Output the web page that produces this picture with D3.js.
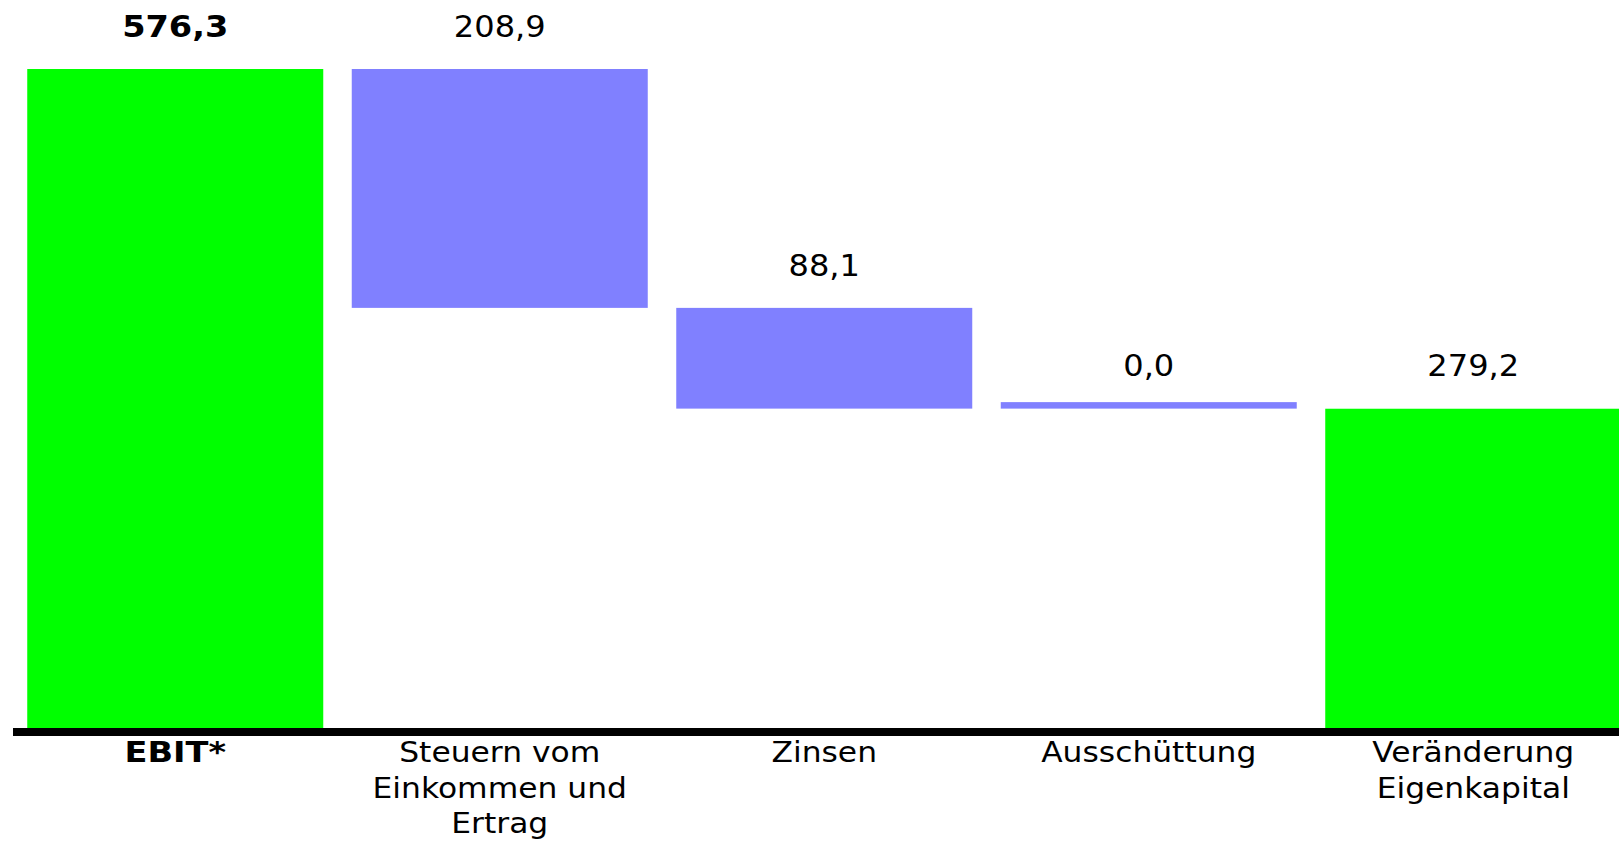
<!DOCTYPE html>
<html>
<head>
<meta charset="utf-8">
<script src="https://cdnjs.cloudflare.com/ajax/libs/d3/7.8.5/d3.min.js"></script>
<style>
	body { margin: 0; background: #ffffff; overflow: hidden; }
	svg { display: block; }
	text { font-family: "DejaVu Sans", Verdana, sans-serif; fill: #000000; }
</style>
</head>
<body>
<div id="chart"></div>
<script>
// chart data
var categories = ["EBIT*", "Steuern vom Einkommen und Ertrag", "Zinsen", "Ausschüttung", "Veränderung Eigenkapital"];
var labelLines = [["EBIT*"], ["Steuern vom", "Einkommen und", "Ertrag"], ["Zinsen"], ["Ausschüttung"], ["Veränderung", "Eigenkapital"]];
var values = [576.3, -208.9, -88.1, 0.0, 279.2];
var barTypes = ["total", "step", "step", "step", "total"];
var boldCategories = ["EBIT*"];

var width = 1619, height = 841;
var colors = { total: "#00ff00", step: "#8080ff" };

var svg = d3.select("#chart").append("svg")
	.attr("width", width)
	.attr("height", height);

// waterfall: start / end for each bar
var bars = [];
var level = 0;
for (var i = 0; i < categories.length; ++i) {
	var start, end;
	if (barTypes[i] == "total") {
		start = 0;
		end = values[i];
		level = values[i];
	}
	else {
		start = level;
		end = level + values[i];
		level = end;
	}
	bars.push({ name: categories[i], lines: labelLines[i], value: values[i], type: barTypes[i], start: start, end: end });
}

var x = d3.scaleBand()
	.domain(categories)
	.range([13, 1635.5])
	.paddingInner(0.0878)
	.paddingOuter(0.0439);

var y = d3.scaleLinear()
	.domain([0, d3.max(values)])
	.range([728, 69]);

var minBar = 6.5;
var de = d3.formatLocale({ decimal: ",", thousands: ".", grouping: [3], currency: ["", " €"] });
var fmt = de.format(".1f");

function isBold(name){
	return boldCategories.indexOf(name) >= 0;
}

svg.selectAll(".bar")
	.data(bars).enter()
	.append("rect")
		.attr("class", "bar")
		.attr("x", function(d){ return x(d.name); })
		.attr("width", x.bandwidth())
		.attr("y", function(d){
			var top = y(Math.max(d.start, d.end));
			var h = Math.abs(y(d.start) - y(d.end));
			return h < minBar ? top - minBar : top;
		})
		.attr("height", function(d){
			return Math.max(minBar, Math.abs(y(d.start) - y(d.end)));
		})
		.attr("fill", function(d){ return colors[d.type]; });

// value labels
svg.selectAll(".value-label")
	.data(bars).enter()
	.append("text")
		.attr("class", "value-label")
		.attr("text-anchor", "middle")
		.attr("transform", function(d){
			var top = y(Math.max(d.start, d.end));
			var sx = isBold(d.name) ? 1.12 : 1.07;
			return "translate(" + (x(d.name) + x.bandwidth() / 2) + "," + (top - 32.3) + ") scale(" + sx + ",1)";
		})
		.style("font-size", "30px")
		.style("font-weight", function(d){ return isBold(d.name) ? "bold" : "normal"; })
		.text(function(d){ return fmt(Math.abs(d.value)); });

// baseline
svg.append("line")
	.attr("x1", 13)
	.attr("x2", width)
	.attr("y1", y(0) + 4)
	.attr("y2", y(0) + 4)
	.attr("stroke", "#000000")
	.attr("stroke-width", 8);

// category labels
var cat = svg.selectAll(".cat-label")
	.data(bars).enter()
	.append("g")
		.attr("class", "cat-label")
		.attr("transform", function(d){
			return "translate(" + (x(d.name) + x.bandwidth() / 2) + ",762)";
		});
cat.selectAll("text")
	.data(function(d){
		return d.lines.map(function(l){ return { text: l, bold: isBold(d.name) }; });
	}).enter()
	.append("text")
		.attr("text-anchor", "middle")
		.attr("transform", function(d, i){
			return "translate(0," + (i * 35.5) + ") scale(" + (d.bold ? 1.2 : 1.12) + ",1)";
		})
		.style("font-size", "28px")
		.style("font-weight", function(d){ return d.bold ? "bold" : "normal"; })
		.text(function(d){ return d.text; });
</script>
</body>
</html>
